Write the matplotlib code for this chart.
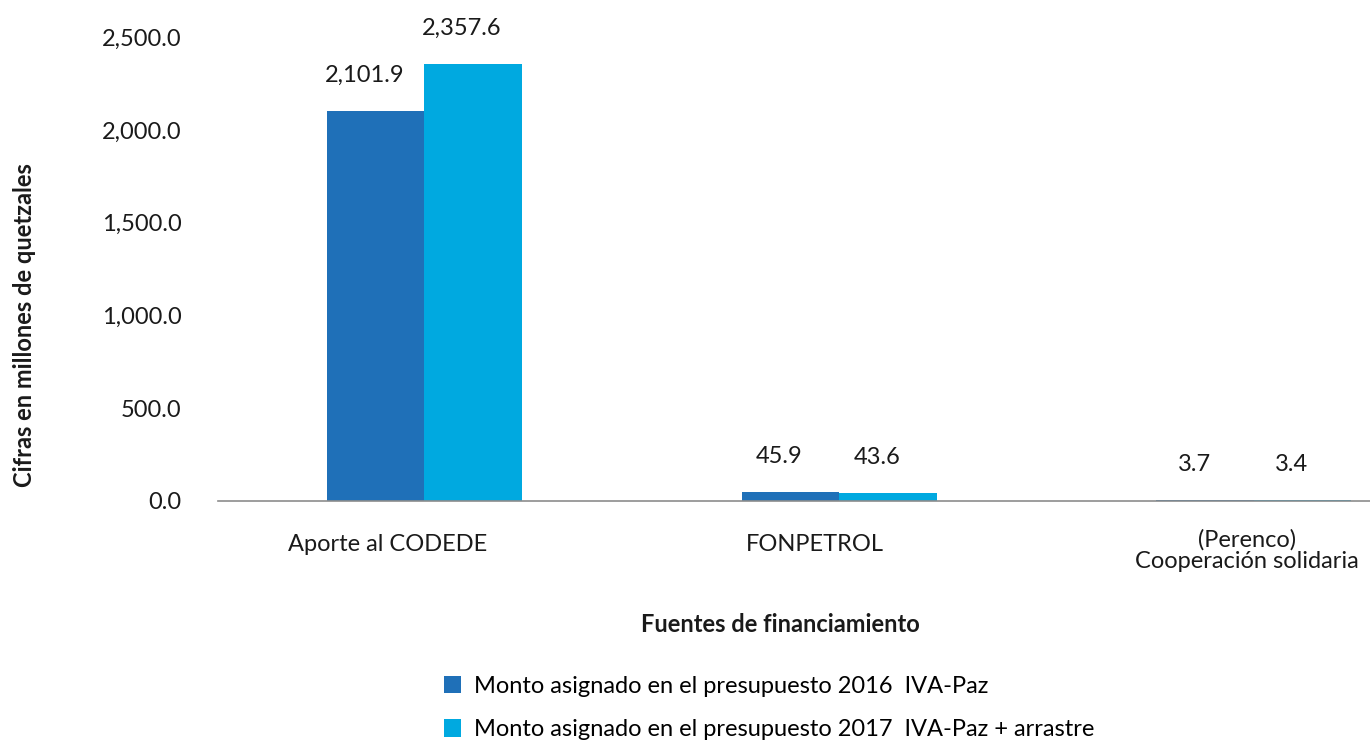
import matplotlib.pyplot as plt
import matplotlib.transforms as mtransforms
import numpy as np

plt.rcParams['font.family'] = ['Lato', 'DejaVu Sans']

categorias = ['Aporte al CODEDE', 'FONPETROL', '(Perenco)\nCooperación solidaria']
monto_2016 = [2101.9, 45.9, 3.7]
monto_2017 = [2357.6, 43.6, 3.4]
etiquetas_2016 = ['2,101.9', '45.9', '3.7']
etiquetas_2017 = ['2,357.6', '43.6', '3.4']
yticks = [0, 500, 1000, 1500, 2000, 2500]

color_2016 = '#1F70B8'
color_2017 = '#00A9E0'

fig = plt.figure(figsize=(13.7, 7.42), dpi=100)
ax = fig.add_axes([0.159, 0.325, 0.841, 0.625])

x = np.arange(len(categorias))
w = 0.235
b1 = ax.bar(x - w / 2, monto_2016, w, color=color_2016,
            label='Monto asignado en el presupuesto 2016  IVA-Paz')
b2 = ax.bar(x + w / 2, monto_2017, w, color=color_2017,
            label='Monto asignado en el presupuesto 2017  IVA-Paz + arrastre')

for bars, labs in [(b1, etiquetas_2016), (b2, etiquetas_2017)]:
    for r, t in zip(bars, labs):
        ax.annotate(t, (r.get_x() + r.get_width() / 2, r.get_height()),
                    xytext=(-8, 18), textcoords='offset points',
                    ha='center', va='bottom', fontsize=17, color='#1a1a1a')

ax.set_xlim(-0.498, 2.28)
ax.set_ylim(0, 2500)
ax.set_yticks(yticks)
ax.set_yticklabels([f'{v:,.1f}' for v in yticks])
ax.set_xticks(x)
ax.set_xticklabels(categorias, fontsize=17, linespacing=1.0)
ax.tick_params(axis='y', length=0, labelsize=17, pad=26, labelcolor='#1a1a1a')
ax.tick_params(axis='x', length=0, pad=24, labelcolor='#1a1a1a')
# las etiquetas de categoría están algo corridas a la izquierda en el original
for lab, dx, dy in zip(ax.get_xticklabels(), [-37, -24, -7], [0, 0, 5]):
    lab.set_transform(lab.get_transform() +
                      mtransforms.ScaledTranslation(dx / 100, dy / 100, fig.dpi_scale_trans))
for s in ['top', 'right', 'left']:
    ax.spines[s].set_visible(False)
ax.spines['bottom'].set_color('#8c8c8c')
ax.spines['bottom'].set_linewidth(1.2)

fig.text(0.5695, 0.158, 'Fuentes de financiamiento', ha='center', va='center',
         fontsize=17, fontweight='bold', color='#1a1a1a')
fig.text(0.018, 0.562, 'Cifras en millones de quetzales', ha='center', va='center',
         rotation=90, fontsize=17, fontweight='bold', color='#1a1a1a')

fig.legend(handles=[b1, b2], loc='upper left', bbox_to_anchor=(0.317, 0.102),
           frameon=False, fontsize=17, handlelength=0.75, handleheight=0.75,
           handletextpad=0.55, labelspacing=0.95, borderaxespad=0)

fig.savefig('out.png', dpi=100)
